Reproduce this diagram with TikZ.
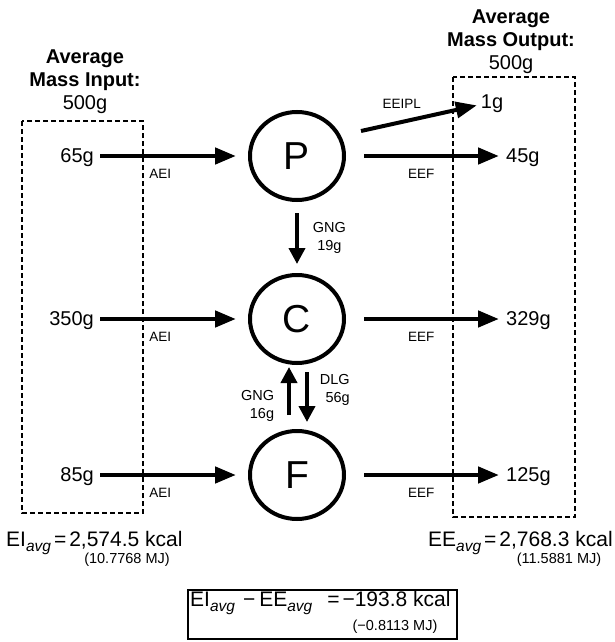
\documentclass[tikz,border=0pt]{standalone}
\usepackage{fontspec}
\setmainfont{Liberation Sans}
\usepackage{tikz}
\usetikzlibrary{arrows.meta,positioning,calc,shapes.geometric}

\newcommand{\avgsub}{\raisebox{-5pt}{\fontsize{15.5}{15.5}\selectfont\itshape avg}}

\begin{document}
\begin{tikzpicture}[x=1pt,y=-1pt,
    pool/.style={draw,ellipse,line width=4pt,minimum width=94pt,minimum height=88pt,inner sep=0pt,font=\fontsize{39}{39}\selectfont},
    mass/.style={inner sep=0pt,text depth=0pt,font=\fontsize{20}{23}\selectfont},
    heading/.style={align=center,font=\fontsize{20}{23}\selectfont},
    flow/.style={-{Triangle[length=21pt,width=16pt]},line width=4.5pt},
    vflow/.style={-{Triangle[length=16pt,width=16pt]},line width=3.8pt},
    lbl/.style={inner sep=0pt,font=\fontsize{13.5}{13.5}\selectfont},
    vlbl/.style={inner sep=0pt,font=\fontsize{14.5}{18}\selectfont},
    energy/.style={anchor=base west,inner sep=0pt,font=\fontsize{21}{21}\selectfont},
    mj/.style={inner sep=0pt,font=\fontsize{14.5}{14.5}\selectfont},
    dashbox/.style={dash pattern=on 5pt off 3pt,line width=1.2pt}]
    \useasboundingbox (0,0) rectangle (614,642);

    % input and output boxes
    \draw[dashbox] (22,121) rectangle (143,513);
    \draw[dashbox] (453,77) rectangle (575,517);
    \node[heading] (intitle) at (85,82) {\textbf{Average}\\\textbf{Mass Input:}\\500g};
    \node[heading] (outtitle) at (511,42) {\textbf{Average}\\\textbf{Mass Output:}\\500g};

    % pools
    \node[pool] (P) at (297,156) {P};
    \node[pool] (C) at (297,319) {C};
    \node[pool] (F) at (297,475) {F};

    % masses
    \node[mass,anchor=east] (inP) at (94,156) {65g};
    \node[mass,anchor=east] (inC) at (94,319) {350g};
    \node[mass,anchor=east] (inF) at (94,475) {85g};
    \node[mass] (outPL) at (492,102) {1g};
    \node[mass,anchor=west] (outP) at (506,156) {45g};
    \node[mass,anchor=west] (outC) at (506,319) {329g};
    \node[mass,anchor=west] (outF) at (506,475) {125g};
    \coordinate (plstart) at (361,131);

    % intake
    \draw[flow,shorten <=6pt,shorten >=12pt] (inP) -- (P) node[lbl,pos=.43,below=11pt] {AEI};
    \draw[flow,shorten <=6pt,shorten >=12pt] (inC) -- (C) node[lbl,pos=.43,below=11pt] {AEI};
    \draw[flow,shorten <=6pt,shorten >=12pt] (inF) -- (F) node[lbl,pos=.43,below=11pt] {AEI};

    % expenditure
    \draw[flow,line width=4pt,shorten >=4pt] (plstart) -- (outPL) node[lbl,pos=.34,above=11pt] {EEIPL};
    \draw[flow,shorten <=18pt,shorten >=7pt] (P) -- (outP) node[lbl,pos=.47,below=11pt] {EEF};
    \draw[flow,shorten <=18pt,shorten >=7pt] (C) -- (outC) node[lbl,pos=.47,below=11pt] {EEF};
    \draw[flow,shorten <=18pt,shorten >=7pt] (F) -- (outF) node[lbl,pos=.47,below=11pt] {EEF};

    % exchanges between pools
    \draw[vflow,shorten <=11pt,shorten >=9pt] (P) -- (C) node[vlbl,midway,right=14pt,align=center] {GNG\\19g};
    \draw[vflow,shorten <=14pt,shorten >=2pt] ([xshift=-8pt]F.north) -- ([xshift=-8pt]C.south) node[vlbl,pos=.36,left=13pt,align=right] {GNG\\16g};
    \draw[vflow,shorten <=7pt,shorten >=7pt] ([xshift=10pt]C.south) -- ([xshift=10pt]F.north) node[vlbl,pos=.39,right=11pt,align=right] {DLG\\56g};

    % energy balance
    \node[energy] (eiavg) at (6,546) {EI\avgsub\kern3pt=\kern3pt2,574.5 kcal};
    \node[mj] (eimj) at (127,560) {(10.7768 MJ)};
    \node[energy] (eeavg) at (428,546) {EE\avgsub\kern3pt=\kern3pt2,768.3 kcal};
    \node[mj] (eemj) at (559,560) {(11.5881 MJ)};
    \draw[line width=1.2pt] (188,590) rectangle (457,639);
    \node[energy] (balance) at (190,606) {EI\avgsub\kern8pt−\kern4pt EE\avgsub\kern15pt=\kern3pt−193.8 kcal};
    \node[mj] (balmj) at (395,627) {(−0.8113 MJ)};
\end{tikzpicture}
\end{document}
